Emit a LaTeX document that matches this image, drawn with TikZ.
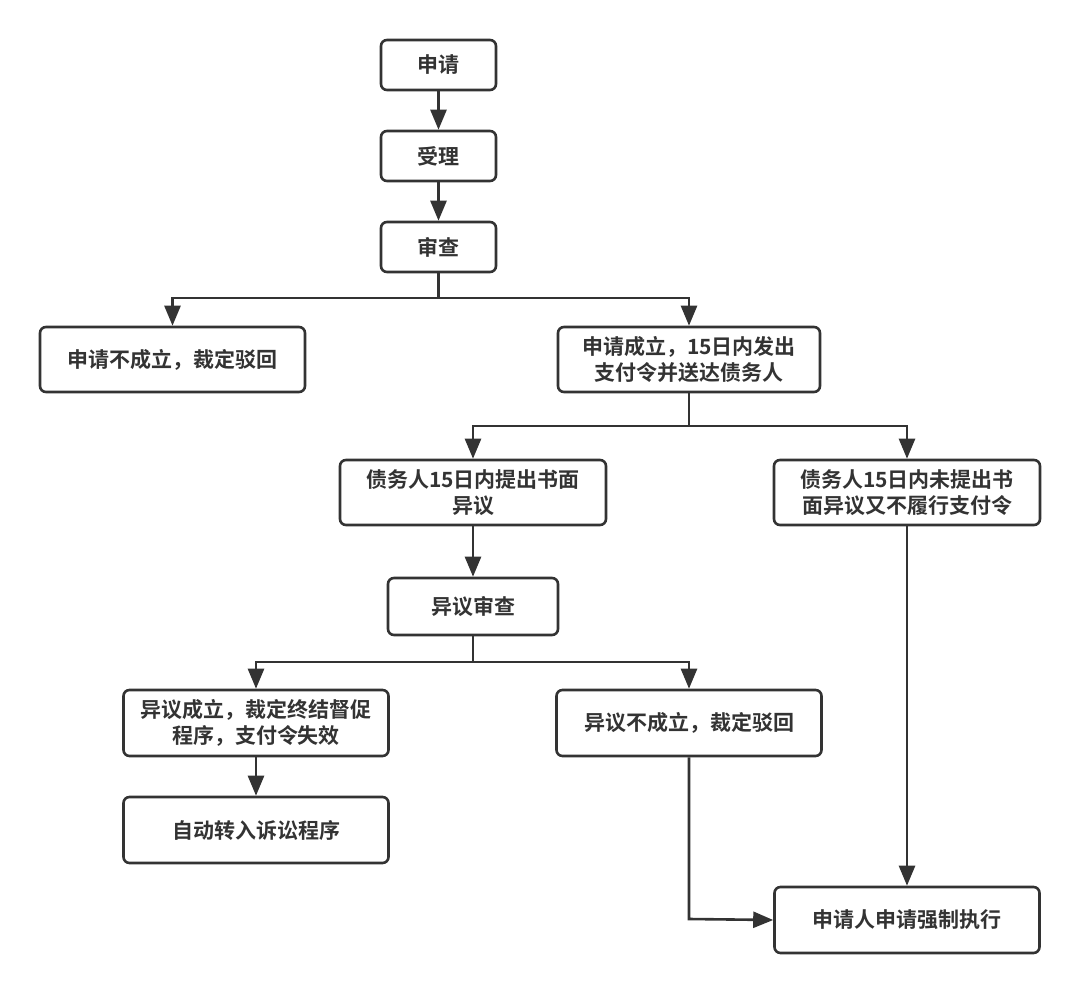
\documentclass[tikz,border=0pt]{standalone}
\usepackage{fontspec}
\newfontfamily\cjk{Noto Sans CJK SC}[BoldFont={Noto Sans CJK SC Bold}]
\usetikzlibrary{arrows.meta}
\definecolor{ink}{HTML}{333333}
\tikzset{
  box/.style={draw=ink, line width=2.6pt, rounded corners=6pt, fill=white,
    text=ink, align=center, inner sep=2pt,
    font=\cjk\bfseries\fontsize{21pt}{26pt}\selectfont},
  arr/.style={draw=ink, line width=2.6pt, -{Triangle[length=20pt,width=16pt]}},
  ln/.style={draw=ink, line width=2.6pt}
}
\begin{document}
\begin{tikzpicture}[x=1pt,y=-1pt]
\useasboundingbox (0,0) rectangle (1080,993);
\node[box, minimum width=115pt, minimum height=50pt] (apply) at (438.5,65) {申请};
\node[box, minimum width=115pt, minimum height=50pt] (accept) at (438.5,156) {受理};
\node[box, minimum width=115pt, minimum height=50pt] (review) at (438.5,247) {审查};
\node[box, minimum width=265pt, minimum height=65pt] (reject) at (172.5,359.5) {申请不成立，裁定驳回};
\node[box, minimum width=262pt, minimum height=65pt] (ok) at (689,359.5) {申请成立，15日内发出\\支付令并送达债务人};
\node[box, minimum width=266pt, minimum height=65pt] (obj) at (473,492.5) {债务人15日内提出书面\\异议};
\node[box, minimum width=266pt, minimum height=65pt] (noobj) at (907,492.5) {债务人15日内未提出书\\面异议又不履行支付令};
\node[box, minimum width=170pt, minimum height=57pt] (objrev) at (473,606.5) {异议审查};
\node[box, minimum width=265pt, minimum height=66pt] (objok) at (256,723) {异议成立，裁定终结督促\\程序，支付令失效};
\node[box, minimum width=265pt, minimum height=66pt] (objno) at (689,723) {异议不成立，裁定驳回};
\node[box, minimum width=265pt, minimum height=66pt] (auto) at (256,830) {自动转入诉讼程序};
\node[box, minimum width=265pt, minimum height=66pt] (enforce) at (907,920) {申请人申请强制执行};

\coordinate (b1) at (438.5,298);
\coordinate (b2) at (689,426);
\coordinate (b3) at (473,662);
\coordinate (b4) at (689,919);

\draw[arr] (apply) -- (accept);
\draw[arr] (accept) -- (review);
\draw[arr] (review.south) -- (b1) -| (reject.north);
\draw[arr] (b1) -| (ok.north);
\draw[arr] (ok.south) -- (b2) -| (obj.north);
\draw[arr] (b2) -| (noobj.north);
\draw[arr] (obj) -- (objrev);
\draw[arr] (objrev.south) -- (b3) -| (objok.north);
\draw[arr] (b3) -| (objno.north);
\draw[arr] (objok) -- (auto);
\draw[arr] (objno.south) -- (b4) -- (enforce.west);
\draw[arr] (noobj) -- (enforce);
\end{tikzpicture}
\end{document}
